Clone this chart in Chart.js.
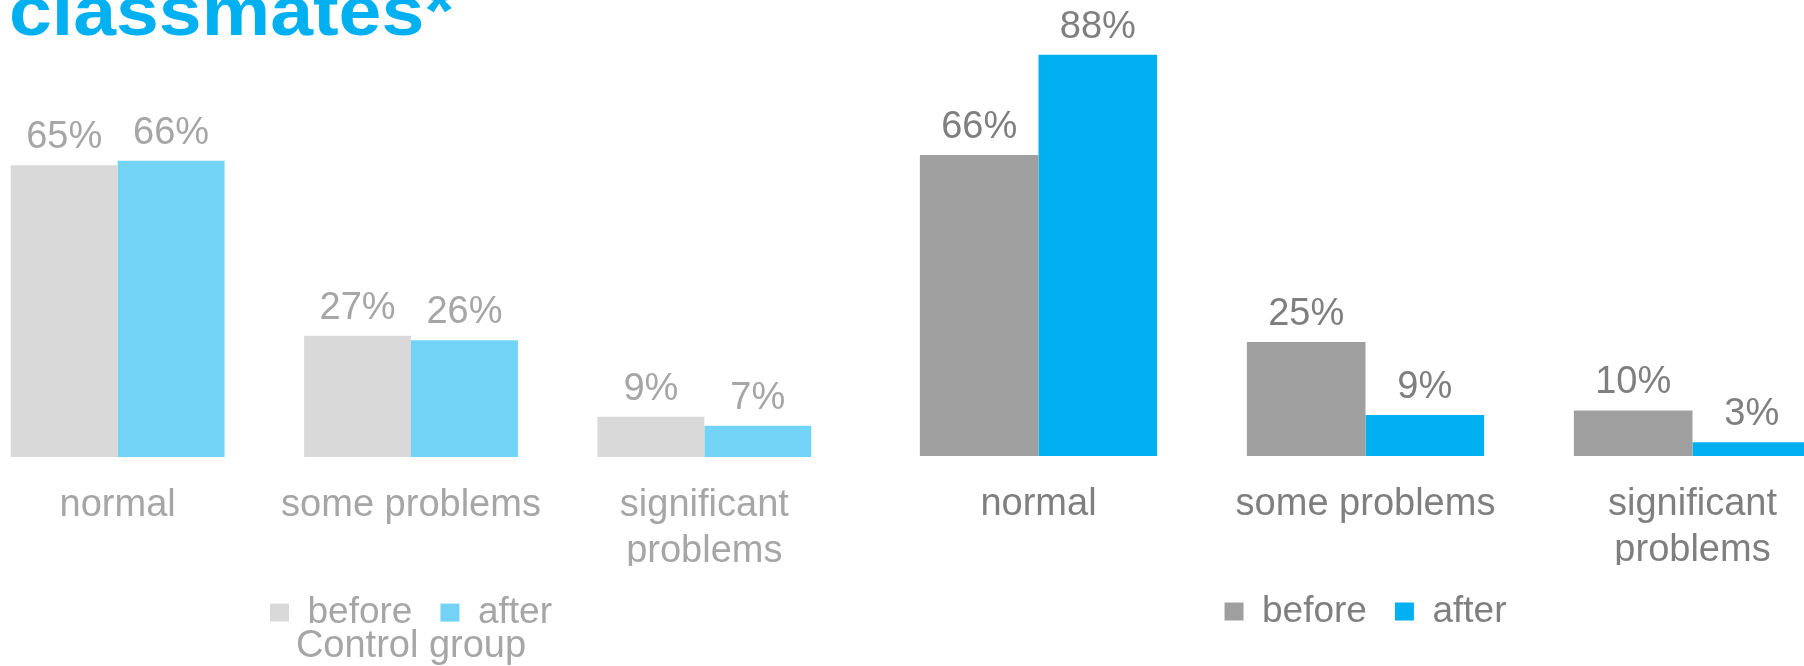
<!DOCTYPE html>
<html>
<head>
<meta charset="utf-8">
<script src="https://cdn.jsdelivr.net/npm/chart.js@4/dist/chart.umd.min.js"></script>
<style>
  html, body { margin: 0; padding: 0; background: #ffffff; }
  body { width: 1804px; height: 666px; overflow: hidden; position: relative; font-family: "Liberation Sans", Arial, sans-serif; }
  #title { position: absolute; left: 9px; top: -24px; font-size: 70px; line-height: 70px; font-weight: bold; color: #00b0f0; white-space: nowrap; transform: scaleX(1.1); transform-origin: left top; }
  #cLeft { position: absolute; left: -29px; top: 0; }
  #cRight { position: absolute; left: 875px; top: 0; }
</style>
</head>
<body>
<div id="title">classmates*</div>
<canvas id="cLeft" width="880" height="666"></canvas>
<canvas id="cRight" width="981" height="666"></canvas>
<script>
// ---- data ----
const categories = ['normal', 'some problems', ['significant', 'problems']];
const seriesNames = ['before', 'after'];
const controlBefore = [65, 27, 9];
const controlAfter = [66, 26, 7];
const studyBefore = [66, 25, 10];
const studyAfter = [88, 9, 3];
const controlTitle = 'Control group';

const FONT = '"Liberation Sans", Arial, sans-serif';

const valueLabels = {
  id: 'valueLabels',
  afterDatasetsDraw(chart, args, opts) {
    const ctx = chart.ctx;
    ctx.save();
    ctx.font = '38px ' + FONT;
    ctx.fillStyle = opts.color;
    ctx.textAlign = 'center';
    ctx.textBaseline = 'alphabetic';
    chart.data.datasets.forEach((ds, di) => {
      const meta = chart.getDatasetMeta(di);
      meta.data.forEach((el, i) => {
        ctx.fillText(ds.data[i] + '%', el.x, el.y - 17);
      });
    });
    ctx.restore();
  }
};

const legendHeight = {
  id: 'legendHeight',
  beforeInit(chart, args, opts) {
    const orig = chart.legend.fit;
    chart.legend.fit = function () {
      orig.call(this);
      this.height = opts.h;
    };
  }
};

function makeChart(id, before, after, colors, textColor, padTop, catPct, withTitle) {
  return new Chart(document.getElementById(id), {
    type: 'bar',
    data: {
      labels: categories,
      datasets: [
        { label: seriesNames[0], data: before, backgroundColor: colors[0], borderWidth: 0 },
        { label: seriesNames[1], data: after, backgroundColor: colors[1], borderWidth: 0 }
      ]
    },
    options: {
      responsive: false,
      animation: false,
      events: [],
      layout: { padding: { top: padTop, left: 0, right: 0, bottom: withTitle ? 0 : 41 } },
      datasets: { bar: { barPercentage: 1, categoryPercentage: catPct } },
      scales: {
        x: {
          grid: { display: false, drawTicks: false },
          border: { display: false },
          ticks: { color: textColor, font: { family: FONT, size: 38, lineHeight: 1.2 }, padding: 26, maxRotation: 0, autoSkip: false },
          afterFit(s) { s.height = 109; }
        },
        y: { display: false, min: 0, max: 100 }
      },
      plugins: {
        legend: {
          position: 'bottom',
          labels: { color: textColor, font: { family: FONT, size: 37 }, boxWidth: 19, boxHeight: 18, padding: 28 }
        },
        title: {
          display: withTitle,
          position: 'bottom',
          text: controlTitle,
          color: textColor,
          font: { family: FONT, size: 38, weight: 'normal', lineHeight: 1.05 },
          padding: { top: 0, bottom: 0 }
        },
        tooltip: { enabled: false },
        valueLabels: { color: textColor },
        legendHeight: { h: 60 }
      }
    },
    plugins: [valueLabels, legendHeight]
  });
}

makeChart('cLeft', controlBefore, controlAfter, ['#d9d9d9', '#72d3f6'], '#a6a6a6', 8, 0.729, true);
makeChart('cRight', studyBefore, studyAfter, ['#9f9f9f', '#00b0f0'], '#7f7f7f', 0, 0.7255, false);
</script>
</body>
</html>
